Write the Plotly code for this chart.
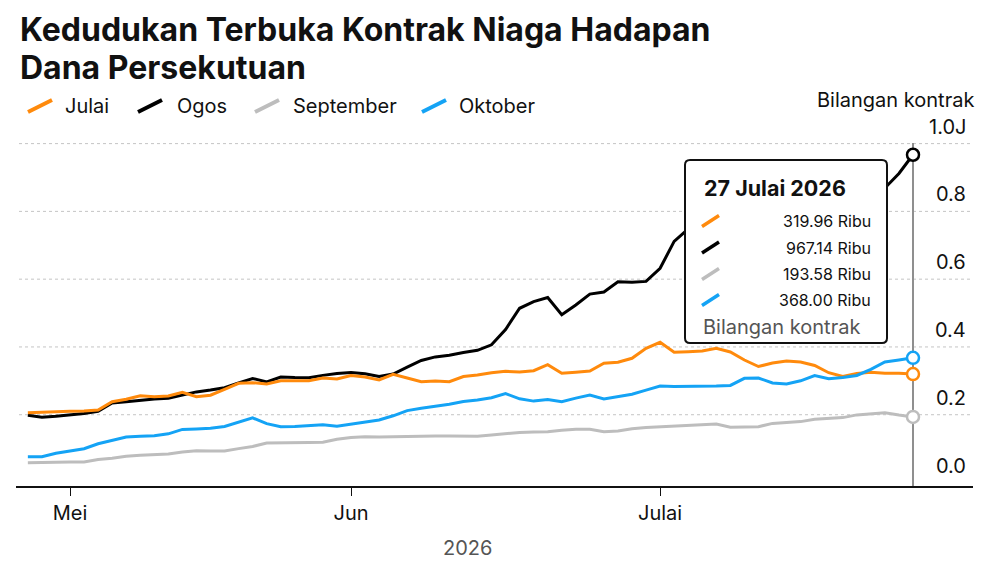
import pandas as pd
import plotly.graph_objects as go

# ---------------- data (thousands of contracts) ----------------
dates = [d for d in pd.bdate_range("2026-04-28", "2026-07-27") if d != pd.Timestamp("2026-05-25")]

series_names = ["Julai", "Ogos", "September", "Oktober"]
series_colors = ["#ff8a0c", "#000000", "#bdbdbd", "#14a3f5"]

julai = [206.0, 208.0, 209.5, 210.4, 211.0, 214.0, 238.4, 245.5, 256.1, 253.2, 255.3, 266.2, 253.2, 257.6,
         274.7, 292.7, 294.5, 290.7, 300.4, 300.4, 300.4, 308.4, 305.4, 315.5, 311.3, 302.5, 319.0, 308.4,
         297.5, 299.5, 297.5, 312.8, 317.2, 324.0, 328.1, 326.1, 329.9, 347.6, 322.2, 325.2, 329.0, 351.8,
         354.7, 366.5, 396.0, 413.7, 384.6, 386.0, 388.1, 396.0, 385.1, 361.5, 342.3, 352.6, 358.5, 355.6,
         345.3, 324.0, 312.8, 321.7, 325.2, 322.2, 322.2, 319.96]
ogos = [198.3, 192.7, 195.7, 199.2, 203.6, 209.8, 234.6, 238.4, 242.9, 246.4, 248.5, 258.8, 267.4, 272.7,
        279.8, 294.2, 306.9, 296.9, 311.0, 309.6, 309.3, 316.1, 321.7, 324.6, 320.8, 312.8, 320.2, 340.2,
        360.0, 370.6, 375.4, 383.9, 390.1, 406.3, 451.5, 514.1, 533.8, 545.9, 494.9, 523.8, 556.0, 562.2,
        592.3, 590.8, 593.4, 632.1, 711.5, 748.1, 755.0, 771.0, 766.0, 784.0, 797.0, 790.0, 808.0, 822.0,
        815.0, 834.0, 842.0, 851.0, 858.0, 869.1, 911.9, 967.14]
september = [58.4, 59.6, 60.2, 60.5, 60.5, 67.9, 71.4, 77.3, 80.3, 81.2, 84.1, 90.0, 93.5, 93.0, 93.0,
             100.0, 106.5, 116.3, 117.5, 117.5, 118.0, 118.6, 127.5, 132.5, 134.9, 134.3, 135.2, 136.0,
             137.8, 137.2, 137.2, 137.2, 136.6, 139.9, 144.9, 147.8, 149.0, 149.9, 154.0, 157.0, 157.0,
             149.9, 152.0, 158.8, 162.6, 164.7, 166.7, 167.6, 170.3, 172.6, 162.9, 164.7, 164.7, 174.4,
             176.5, 179.7, 186.8, 189.5, 191.5, 199.5, 202.1, 206.0, 199.2, 193.58]
oktober = [76.1, 76.1, 86.2, 92.4, 99.7, 114.2, 125.1, 134.3, 136.3, 137.8, 143.7, 156.7, 157.9, 159.9,
           165.5, 177.9, 190.6, 173.8, 164.4, 165.5, 168.2, 170.3, 166.1, 172.3, 179.7, 184.4, 196.8,
           212.2, 219.3, 225.2, 230.8, 239.3, 243.2, 250.2, 262.3, 247.0, 240.2, 245.2, 238.7, 249.1,
           258.2, 246.7, 252.9, 260.6, 272.7, 284.8, 283.0, 283.3, 283.9, 284.8, 286.5, 307.5, 308.4,
           293.6, 290.7, 300.1, 315.8, 306.3, 309.6, 315.8, 333.8, 355.6, 361.5, 368.00]
series_values = [julai, ogos, september, oktober]

y_tickvals = [0, 200, 400, 600, 800, 1000]
y_ticktext = ["0.0", "0.2", "0.4", "0.6", "0.8", "1.0J"]
x_tickvals = ["2026-05-01", "2026-06-01", "2026-07-01"]
x_ticktext = ["Mei", "Jun", "Julai"]
bulan = ["Januari", "Februari", "Mac", "April", "Mei", "Jun", "Julai", "Ogos",
         "September", "Oktober", "November", "Disember"]
title_lines = ["Kedudukan Terbuka Kontrak Niaga Hadapan", "Dana Persekutuan"]

FONT = "Inter, Roboto, Arial, sans-serif"

# ---------------- layout geometry (pixels) ----------------
W, H = 1000, 579
L, R, T, B = 16, 973, 143, 486
PW, PH = R - L, B - T


def px(x):
    return (x - L) / PW


def py(y):
    return (B - y) / PH


fig = go.Figure()

draw_order = [1, 0, 2, 3]
for i in draw_order:
    fig.add_trace(go.Scatter(x=dates, y=series_values[i], mode="lines", name=series_names[i],
                             line=dict(color=series_colors[i], width=3), showlegend=False,
                             hoverinfo="skip"))

shapes = []
annotations = []
# gridlines + right-hand value labels sitting above them
for v, t in zip(y_tickvals, y_ticktext):
    if v > 0:
        shapes.append(dict(type="line", xref="paper", yref="y", x0=px(19), x1=1, y0=v, y1=v,
                           line=dict(color="#c4c4c4", width=1, dash="dot"), layer="below"))
    annotations.append(dict(xref="paper", yref="y", x=px(968), y=v, yshift=17, xanchor="right",
                            yanchor="middle", showarrow=False, text=t,
                            font=dict(family=FONT, size=20, color="#111111")))
# crosshair
shapes.append(dict(type="line", xref="x", yref="paper", x0=dates[-1], x1=dates[-1], y0=0, y1=1,
                   line=dict(color="#8f8f8f", width=2), layer="below"))

for i in [3, 0, 2, 1]:
    fig.add_trace(go.Scatter(x=[dates[-1]], y=[series_values[i][-1]], mode="markers",
                             marker=dict(size=12, color="white",
                                         line=dict(color=series_colors[i], width=2.5)),
                             showlegend=False, hoverinfo="skip"))

# title (two lines)
for txt, yc in zip(title_lines, [29, 67]):
    annotations.append(dict(xref="paper", yref="paper", x=px(18), y=py(yc), xanchor="left",
                            yanchor="middle", align="left", showarrow=False,
                            text=f"<b>{txt}</b>",
                            font=dict(family=FONT, size=32, color="#111111")))

# custom legend
leg_icons = [(28, 52), (138, 162), (255, 279), (422, 446)]
leg_text_x = [63, 175, 291, 457]
for i in range(4):
    x0, x1 = leg_icons[i]
    shapes.append(dict(type="line", xref="paper", yref="paper", x0=px(x0), x1=px(x1),
                       y0=py(112), y1=py(100), line=dict(color=series_colors[i], width=4),
                       layer="above"))
    annotations.append(dict(xref="paper", yref="paper", x=px(leg_text_x[i]), y=py(106),
                            xanchor="left", yanchor="middle", showarrow=False, text=series_names[i],
                            font=dict(family=FONT, size=20, color="#111111")))

# axis caption
annotations.append(dict(xref="paper", yref="paper", x=px(976), y=py(100), xanchor="right",
                        yanchor="middle", showarrow=False, text="Bilangan kontrak",
                        font=dict(family=FONT, size=20, color="#111111")))
annotations.append(dict(xref="paper", yref="paper", x=px(467), y=py(548), xanchor="center",
                        yanchor="middle", showarrow=False, text="2026",
                        font=dict(family=FONT, size=20, color="#555555")))

# tooltip box (rounded rectangle)
bx0, bx1, by0, by1, r = 685, 887, 160, 343, 5


def P(x, y):
    return f"{px(x):.5f},{py(y):.5f}"


path = (f"M {P(bx0 + r, by0)} L {P(bx1 - r, by0)} Q {P(bx1, by0)} {P(bx1, by0 + r)} "
        f"L {P(bx1, by1 - r)} Q {P(bx1, by1)} {P(bx1 - r, by1)} L {P(bx0 + r, by1)} "
        f"Q {P(bx0, by1)} {P(bx0, by1 - r)} L {P(bx0, by0 + r)} Q {P(bx0, by0)} {P(bx0 + r, by0)} Z")
shapes.append(dict(type="path", xref="paper", yref="paper", path=path, fillcolor="white",
                   line=dict(color="#111111", width=2), layer="above"))

d = dates[-1]
annotations.append(dict(xref="paper", yref="paper", x=px(702), y=py(188), xanchor="left",
                        yanchor="middle", showarrow=False,
                        text=f"<b>{d.day} {bulan[d.month - 1]} {d.year}</b>",
                        font=dict(family=FONT, size=21.5, color="#111111")))
row_y = [221, 247.5, 274, 300]
for i in range(4):
    shapes.append(dict(type="line", xref="paper", yref="paper", x0=px(702), x1=px(719),
                       y0=py(row_y[i] + 5.5), y1=py(row_y[i] - 5.5),
                       line=dict(color=series_colors[i], width=3.5), layer="above"))
    annotations.append(dict(xref="paper", yref="paper", x=px(873), y=py(row_y[i]), xanchor="right",
                            yanchor="middle", showarrow=False,
                            text=f"{series_values[i][-1]:.2f} Ribu",
                            font=dict(family=FONT, size=16, color="#111111")))
annotations.append(dict(xref="paper", yref="paper", x=px(701), y=py(327), xanchor="left",
                        yanchor="middle", showarrow=False, text="Bilangan kontrak",
                        font=dict(family=FONT, size=20, color="#555555")))

fig.update_layout(
    width=W, height=H,
    margin=dict(l=L, r=W - R, t=T, b=H - B, pad=0),
    paper_bgcolor="white", plot_bgcolor="white",
    showlegend=False,
    shapes=shapes, annotations=annotations,
    xaxis=dict(
        type="date",
        rangebreaks=[dict(bounds=["sat", "mon"]), dict(values=["2026-05-25"])],
        range=["2026-04-27 03:46", "2026-07-31 06:29"],
        tickvals=x_tickvals, ticktext=x_ticktext,
        ticks="outside", ticklen=8, tickwidth=1.2, tickcolor="#111111",
        showline=True, linecolor="#111111", linewidth=1.5,
        showgrid=False, zeroline=False,
        tickfont=dict(family=FONT, size=20, color="#111111"),
    ),
    yaxis=dict(
        side="right",
        range=[-10.3, 1001.8],
        tickvals=y_tickvals, showticklabels=False,
        ticks="", showgrid=False, zeroline=False, showline=False,
    ),
)

fig.write_html("out.html")
